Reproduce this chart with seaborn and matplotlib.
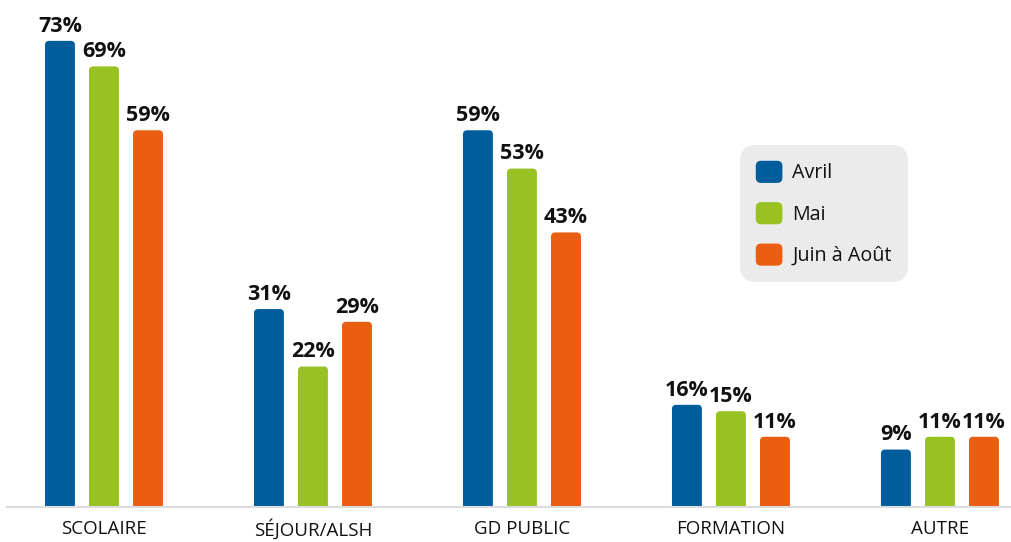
import matplotlib
matplotlib.use("Agg")
import matplotlib.pyplot as plt
from matplotlib.patches import FancyBboxPatch
from matplotlib.legend_handler import HandlerPatch
import matplotlib.patches as mpatches
import seaborn as sns
import pandas as pd

categories = ["SCOLAIRE", "SÉJOUR/ALSH", "GD PUBLIC", "FORMATION", "AUTRE"]
series_names = ["Avril", "Mai", "Juin à Août"]
avril = [73, 31, 59, 16, 9]
mai = [69, 22, 53, 15, 11]
juin_aout = [59, 29, 43, 11, 11]
colors = ["#005D9B", "#97C222", "#E95E10"]

rows = []
for name, vals in zip(series_names, [avril, mai, juin_aout]):
    for c, v in zip(categories, vals):
        rows.append({"cat": c, "serie": name, "val": v})
df = pd.DataFrame(rows)

sns.set_theme(style="white")
plt.rcParams["font.family"] = ["Open Sans", "DejaVu Sans"]

fig = plt.figure(figsize=(10.11, 5.42), dpi=100)
ax = fig.add_axes([7/1011, 35/542, 1 - 7/1011, 507/542])

sns.barplot(data=df, x="cat", y="val", hue="serie", order=categories,
            hue_order=series_names, palette=colors, width=0.632, gap=0.32,
            ax=ax, legend=False, saturation=1)

ax.set_xlim(-0.464, 4.34)
ax.set_ylim(0, 79.4)

# rounded bars
r = 0.02
px_per_x = (1011 - 7) / (4.34 + 0.464)
px_per_y = 507 / 79.4
aspect = (px_per_x / px_per_y)
for cont, col, vals in zip(ax.containers, colors, [avril, mai, juin_aout]):
    for p in cont.patches:
        x, w, h = p.get_x(), p.get_width(), p.get_height()
        p.set_visible(False)
        fb = FancyBboxPatch((x, -2), w, h + 2,
                            boxstyle=f"round,pad=0,rounding_size={r}",
                            mutation_aspect=aspect, facecolor=col,
                            edgecolor="none", clip_on=True, zorder=2)
        ax.add_patch(fb)
    ax.bar_label(cont, labels=[f"{v}%" for v in vals], padding=3,
                 fontsize=15.5, fontweight="bold", color="#111111")

for s in ["top", "right", "left"]:
    ax.spines[s].set_visible(False)
ax.spines["bottom"].set_color("#dcdcdc")
ax.spines["bottom"].set_linewidth(1.5)
ax.set_yticks([])
ax.set_xlabel("")
ax.set_ylabel("")
ax.tick_params(axis="x", length=0, pad=9, labelsize=13.5, labelcolor="#111111")


class RoundHandler(HandlerPatch):
    def create_artists(self, legend, orig_handle, xdescent, ydescent,
                       width, height, fontsize, trans):
        p = FancyBboxPatch((-xdescent, -ydescent), width, height,
                           boxstyle=f"round,pad=0,rounding_size={width*0.2}",
                           facecolor=orig_handle.get_facecolor(),
                           edgecolor="none", transform=trans)
        return [p]


handles = [mpatches.Patch(facecolor=c, label=n) for c, n in zip(colors, series_names)]
leg = fig.legend(handles=handles, loc="upper left",
                 bbox_to_anchor=(740/1011, 1 - 145/542), bbox_transform=fig.transFigure,
                 borderaxespad=0, fontsize=14.2, handlelength=1.35, handleheight=1.35,
                 handletextpad=0.5, labelspacing=0.95, borderpad=0.8,
                 frameon=True, fancybox=True, facecolor="#ebebeb", edgecolor="none",
                 framealpha=1, handler_map={mpatches.Patch: RoundHandler()})
leg.get_frame().set_boxstyle("round,pad=0,rounding_size=0.8")
for t in leg.get_texts():
    t.set_color("#111111")

fig.savefig("out.png", dpi=100)
